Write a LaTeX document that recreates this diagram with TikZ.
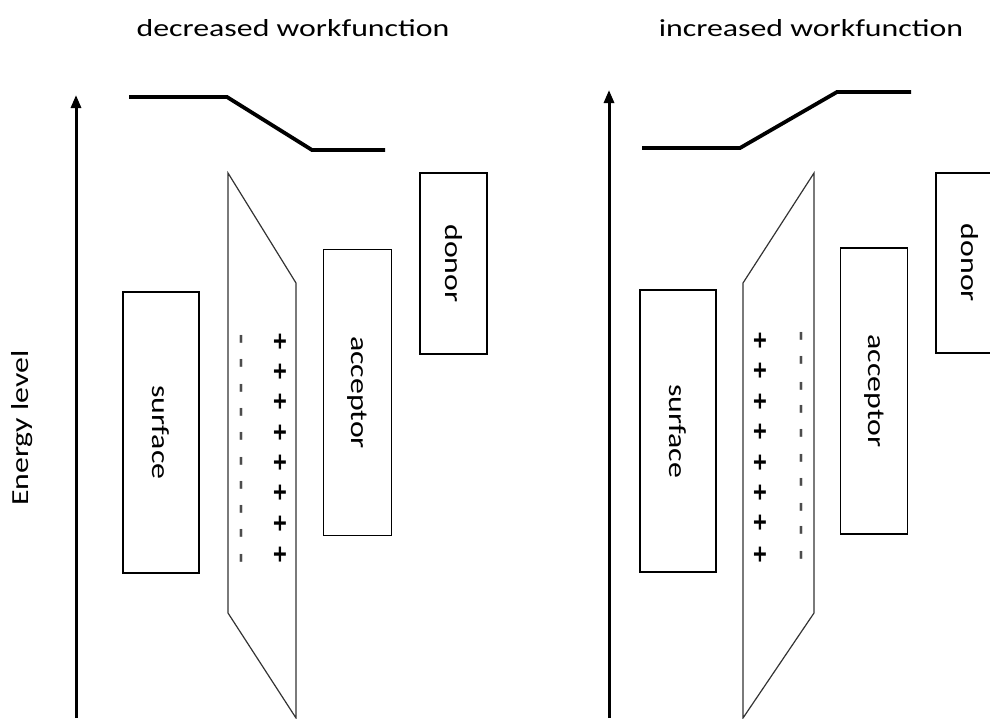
\documentclass[tikz,border=0pt]{standalone}
\usepackage{fontspec}
\setmainfont[FakeStretch=1.3]{Carlito}
\usetikzlibrary{arrows.meta}
\begin{document}
\begin{tikzpicture}[x=1pt,y=-1pt,
  txt/.style={font=\fontsize{24.5}{28}\selectfont, inner sep=0pt},
  band/.style={draw=black, line width=1.3pt, rotate=-90, inner sep=0pt,
    font=\fontsize{24.5}{28}\selectfont},
  barrier/.style={draw=black!80, line width=1.2pt, line join=miter},
  level/.style={line width=3.8pt, line join=miter},
  axis/.style={line width=3pt, -{Triangle[length=13pt,width=10pt]}},
  plus/.style={font=\fontsize{25}{28}\selectfont\bfseries, inner sep=0pt, rotate=-90},
  minus/.style={font=\fontsize{24.5}{28}\selectfont\bfseries, inner sep=0pt, rotate=-90, text=black!70}
]
\useasboundingbox (0,0) rectangle (990,718);

% titles
\node[txt] (t1) at (293,28) {decreased workfunction};
\node[txt] (t2) at (811,28) {increased workfunction};

% energy axis label
\node[txt, rotate=90] (el) at (22,428) {Energy level};

% ---------- left panel ----------
\coordinate (a1s) at (76,718);
\coordinate (a1e) at (76,95);
\draw[axis] (a1s) -- (a1e);

\coordinate (l1) at (129,97);
\coordinate (l2) at (227,97);
\coordinate (l3) at (312,150);
\coordinate (l4) at (385,150);
\draw[level] (l1) -- (l2) -- (l3) -- (l4);

\node[band, minimum width=281pt, minimum height=76pt] (surfL) at (161,432.5) {surface};
\node[band, minimum width=286pt, minimum height=68pt] (accL) at (357.5,392.5) {acceptor};
\node[band, minimum width=181pt, minimum height=67pt] (donL) at (453.5,263.5) {donor};

\coordinate (p1) at (228,173);
\coordinate (p2) at (296,283);
\coordinate (p3) at (296,718);
\coordinate (p4) at (228,613);
\draw[barrier] (p1) -- (p2) -- (p3) -- (p4) -- cycle;

\foreach \i/\y in {0/339,1/363,2/388,3/412,4/436,5/461,6/485,7/509,8/533,9/558}
  \node[minus] (mL\i) at (239,\y) {-};
\foreach \i/\y in {0/342,1/372,2/402,3/433,4/463,5/493,6/524,7/555}
  \node[plus] (pL\i) at (279,\y) {+};

% ---------- right panel ----------
\coordinate (a2s) at (609,718);
\coordinate (a2e) at (609,90);
\draw[axis] (a2s) -- (a2e);

\coordinate (r1) at (642,148);
\coordinate (r2) at (740,148);
\coordinate (r3) at (837,92);
\coordinate (r4) at (911,92);
\draw[level] (r1) -- (r2) -- (r3) -- (r4);

\node[band, minimum width=282pt, minimum height=76pt] (surfR) at (678,431) {surface};
\node[band, minimum width=286pt, minimum height=67pt] (accR) at (874,391) {acceptor};
\node[band, minimum width=180pt, minimum height=67pt] (donR) at (969.5,263) {donor};

\coordinate (q1) at (743,283);
\coordinate (q2) at (814,173);
\coordinate (q3) at (814,613);
\coordinate (q4) at (743,718);
\draw[barrier] (q1) -- (q2) -- (q3) -- (q4) -- cycle;

\foreach \i/\y in {0/341,1/371,2/402,3/432,4/463,5/493,6/523,7/555}
  \node[plus] (pR\i) at (759,\y) {+};
\foreach \i/\y in {0/336,1/360,2/386,3/409,4/433,5/458,6/482,7/507,8/530,9/555}
  \node[minus] (mR\i) at (799,\y) {-};
\end{tikzpicture}
\end{document}
